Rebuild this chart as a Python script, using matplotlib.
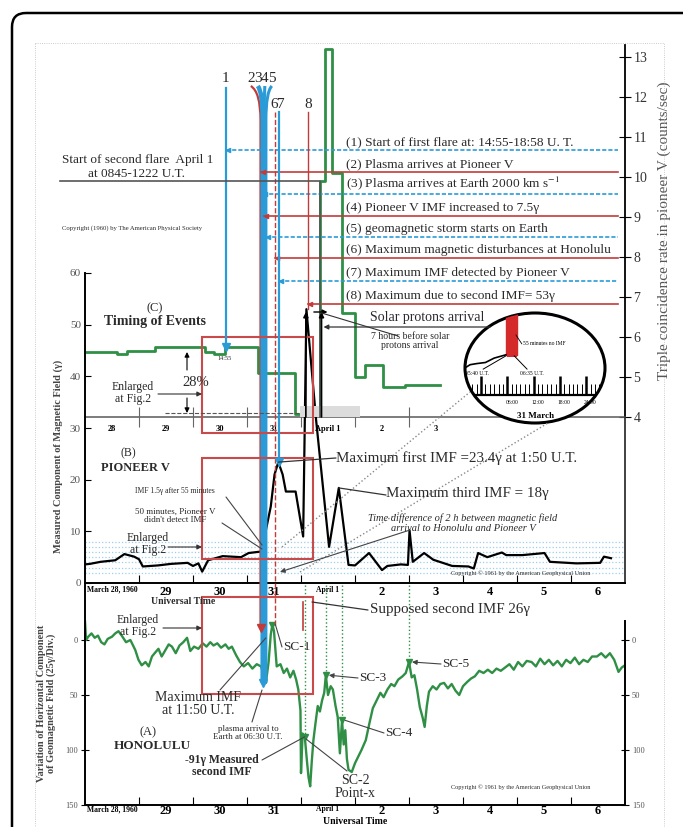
import matplotlib
matplotlib.use("Agg")
import matplotlib.pyplot as plt
from matplotlib.patches import Ellipse, FancyBboxPatch, Rectangle, PathPatch
from matplotlib.path import Path

W, H = 683, 827
plt.rcParams["font.family"] = ["Liberation Serif", "DejaVu Serif"]
plt.rcParams["mathtext.fontset"] = "stix"

GREEN = "#2f8f45"
BLUE = "#2b9bd8"
RED = "#c23b3b"
BOXRED = "#c84a4a"
INK = "#2a2a2a"

# time axis: days since 28 March 1960, 00 UT
day_edges = [1, 2, 3, 4, 5, 6, 7, 8, 9]
c_day_labels = ["28", "29", "30", "31", "April 1", "2", "3"]
ab_day_labels = ["March 28, 1960", "29", "30", "31", "April 1", "2", "3", "4", "5", "6"]

# (C) timing of events: triple coincidence rate (counts/sec)
timing_t = [0.0, 0.6, 0.77, 1.3, 2.22, 2.38, 2.59, 3.2, 3.89, 4.35, 4.44,
            4.57, 4.76, 5.0, 5.19, 5.52, 5.93, 6.57]
timing_rate = [5.62, 5.58, 5.65, 5.75, 5.62, 5.58, 5.75, 5.1, 4.08, 9.9, 13.2,
               10.1, 6.6, 5.0, 5.3, 4.75, 4.8, 4.8]
rate_ticks = [4, 5, 6, 7, 8, 9, 10, 11, 12, 13]

# (B) Pioneer V measured field (gamma)
pioneer_t = [0.0, 0.09, 0.29, 0.56, 0.73, 0.91, 1.0, 1.07, 1.35, 1.59, 1.9,
             2.0, 2.1, 2.17, 2.28, 2.55, 2.89, 3.03, 3.27, 3.30, 3.44, 3.51,
             3.58, 3.66, 3.72, 3.90, 4.04, 4.10, 4.28, 4.52, 4.70, 4.88, 5.0,
             5.26, 5.5, 5.6, 5.85, 5.98, 6.01, 6.07, 6.28, 6.45, 6.8, 7.1,
             7.2, 7.28, 7.45, 7.72, 7.8, 8.1, 8.51, 8.61, 9.1, 9.54, 9.61, 9.74]
pioneer_b = [3.6, 3.7, 4.1, 4.4, 5.6, 5.1, 4.6, 3.2, 3.4, 3.7, 3.9,
             3.3, 3.8, 2.2, 4.4, 5.2, 5.0, 5.8, 6.1, 7.7, 14.8, 21.0,
             23.4, 21.0, 17.7, 17.7, 9.0, 53.0, 31.5, 7.0, 18.4, 3.5, 3.4,
             5.8, 2.5, 3.3, 3.6, 3.5, 10.2, 4.1, 5.8, 4.5, 3.3, 3.2,
             2.8, 5.8, 5.0, 5.9, 5.4, 5.4, 5.8, 4.1, 3.8, 3.9, 5.1, 4.8]
field_ticks = [0, 10, 20, 30, 40, 50, 60]
hatch_levels = [2, 3, 4, 5, 6, 7, 8]

# (A) Honolulu horizontal component variation (gamma, downwards positive)
honolulu_t = [0.0, 0.02, 0.06, 0.12, 0.18, 0.24, 0.30, 0.36, 0.42, 0.50,
              0.56, 0.62, 0.68, 0.76, 0.84, 0.93, 0.99, 1.05, 1.12, 1.18,
              1.24, 1.29, 1.36, 1.42, 1.48, 1.55, 1.61, 1.68, 1.75, 1.82,
              1.89, 1.95, 2.02, 2.10, 2.18, 2.25, 2.32, 2.38, 2.45, 2.52,
              2.60, 2.66, 2.72, 2.80, 2.87, 2.94, 3.02, 3.10, 3.18, 3.26,
              3.31, 3.35, 3.40, 3.44, 3.47, 3.50, 3.55, 3.62, 3.68, 3.74,
              3.80, 3.86, 3.91, 3.95, 3.99, 4.00, 4.03, 4.07, 4.11, 4.14,
              4.17, 4.20, 4.23, 4.27, 4.31, 4.35, 4.39, 4.43, 4.46, 4.50,
              4.55, 4.59, 4.64, 4.68, 4.72, 4.76, 4.79, 4.82, 4.85, 4.88,
              4.94, 5.00, 5.06, 5.12, 5.20, 5.27, 5.33, 5.40, 5.47, 5.53,
              5.60, 5.67, 5.73, 5.80, 5.88, 5.94, 6.00, 6.05, 6.10, 6.15,
              6.20, 6.25, 6.29, 6.33, 6.37, 6.44, 6.51, 6.58, 6.65, 6.72,
              6.79, 6.86, 6.93, 7.00, 7.08, 7.15, 7.22, 7.30, 7.38, 7.46,
              7.54, 7.62, 7.70, 7.78, 7.86, 7.94, 8.02, 8.10, 8.18, 8.27,
              8.35, 8.43, 8.51, 8.59, 8.67, 8.75, 8.83, 8.91, 8.99, 9.07,
              9.15, 9.23, 9.31, 9.39, 9.48, 9.56, 9.64, 9.72, 9.80, 9.88,
              9.94, 10.0]
honolulu_h = [-17, 0, -3, -6, -2, -4, 2, 4, -1, -3,
              -6, -8, -4, 2, 0, 9, 18, 23, 20, 24,
              15, 12, 8, 15, 10, 4, 6, 12, 5, 2,
              -2, 10, 6, 8, 3, 6, 2, 5, 3, 7,
              4, 8, 6, 14, 20, 24, 21, 26, 22, 24,
              32, 39, 20, -5, -14, -8, 24, 22, 30, 26,
              34, 28, 36, 45, 64, 121, 85, 88, 110, 125,
              133, 110, 91, 75, 60, 65, 55, 48, 32, 50,
              42, 45, 60, 70, 103, 73, 95, 82, 108, 118,
              120, 112, 106, 100, 91, 75, 62, 55, 48, 52,
              45, 40, 42, 36, 33, 30, 20, 34, 32, 45,
              61, 70, 79, 60, 47, 42, 45, 40, 39, 44,
              40, 46, 50, 42, 38, 35, 33, 28, 30, 27,
              30, 26, 28, 25, 22, 27, 20, 24, 19, 20,
              24, 17, 22, 18, 23, 19, 24, 18, 21, 16,
              22, 18, 20, 15, 15, 12, 16, 12, 18, 29,
              25, 23]
honolulu_ticks = [0, 50, 100, 150]
sc_names = ["SC-1", "SC-2", "SC-3", "SC-4", "SC-5"]
sc_t = [3.47, 4.07, 4.46, 4.76, 6.00]
sc_h = [-14, 88, 32, 73, 20]

# events 1..8 (day since 28 March)
event_labels = ["1", "2", "3", "4", "5", "6", "7", "8"]
event_t = [2.61, 3.25, 3.29, 3.32, 3.35, 3.52, 3.60, 4.13]
event_texts = [
    "(1) Start of first flare at: 14:55-18:58 U. T.",
    "(2) Plasma arrives at Pioneer V",
    "(3) Plasma arrives at Earth 2000 km s$^{-1}$",
    "(4) Pioneer V IMF increased to 7.5\u03b3",
    "(5) geomagnetic storm starts on Earth",
    "(6) Maximum magnetic disturbances at Honolulu",
    "(7) Maximum IMF detected by Pioneer V",
    "(8) Maximum due to second IMF= 53\u03b3",
]

# inset: 31 March, hours
inset_hours = list(range(-3, 29))
inset_major = [0, 6, 12, 18, 24]
inset_major_labels = ["", "06:00", "12:00", "18:00", "24:00"]
inset_trace_h = [-3.7, -2.5, -1.0, 1.0, 3.0, 5.67]
inset_trace_y = [0.50, 0.53, 0.54, 0.55, 0.59, 0.62]
no_imf_start, no_imf_end = 5.67, 6.58

fig = plt.figure(figsize=(W / 100, H / 100), dpi=100)
fig.patch.set_facecolor("white")


def px_axes(x0, y0, x1, y1):
    return fig.add_axes([x0 / W, 1 - y1 / H, (x1 - x0) / W, (y1 - y0) / H])


def centers(n):
    return [d + 0.5 for d in range(n)]


# ---- panel C
axC = px_axes(85, 45, 625, 417)
axC.set_xlim(0, 10)
axC.set_ylim(4, 13.3)
axC.patch.set_alpha(0)
axC.spines["left"].set_visible(False)
axC.spines["top"].set_visible(False)
axC.spines["right"].set_linewidth(1.3)
axC.spines["bottom"].set_color("#666")
axC.spines["bottom"].set_linewidth(1.2)
axC.yaxis.tick_right()
axC.set_yticks(rate_ticks)
axC.tick_params(axis="y", direction="inout", length=8, labelsize=10,
                pad=2, labelcolor="#333")
axC.set_xticks(day_edges[:6])
axC.set_xticklabels([])
axC.set_xticks(centers(7), minor=True)
axC.set_xticklabels(c_day_labels, minor=True, fontsize=6, fontweight="bold")
axC.tick_params(axis="x", which="major", direction="inout", length=14,
                color="#666")
axC.tick_params(axis="x", which="minor", length=0, pad=6)
axC.yaxis.set_label_position("right")
axC.set_ylabel("Triple coincidence rate in pioneer V (counts/sec)",
               fontsize=11, color="#555")
axC.yaxis.set_label_coords(1.06, 0.5)
axC.plot(timing_t, timing_rate, drawstyle="steps-post", color=GREEN, lw=2)

# ---- panel B
axB = px_axes(85, 273, 625, 583)
axB.set_xlim(0, 10)
axB.set_ylim(0, 60)
axB.patch.set_alpha(0)
axB.spines["right"].set_visible(False)
axB.spines["top"].set_visible(False)
axB.spines["left"].set_linewidth(1.4)
axB.spines["bottom"].set_linewidth(1.4)
axB.set_yticks(field_ticks)
axB.tick_params(axis="y", direction="in", length=4, labelsize=8,
                labelcolor="#555", pad=3)
axB.set_xticks(day_edges)
axB.set_xticklabels([])
axB.set_xticks(centers(10), minor=True)
axB.set_xticklabels(ab_day_labels, minor=True)
axB.tick_params(axis="x", which="major", direction="in", length=6)
axB.tick_params(axis="x", which="minor", length=0, pad=2)
for i, lab in enumerate(axB.get_xticklabels(minor=True)):
    lab.set_fontsize(5.5 if i in (0, 4) else 9)
    lab.set_fontweight("bold")
axB.set_ylabel("Measured Component of Magnetic Field (\u03b3)", fontsize=7.5,
               fontweight="bold", color="#444")
axB.yaxis.set_label_coords(-0.04, 0.41)
for lev in hatch_levels:
    axB.axhline(lev, color="#9cd0ea", ls=":", lw=0.9)
axB.axvline(10, 0, 32.1 / 60, color="#333", lw=1.3, clip_on=False)
axB.plot(pioneer_t, pioneer_b, color="black", lw=1.6)

# ---- panel A
axA = px_axes(85, 585, 625, 805)
axA.set_xlim(0, 10)
axA.set_ylim(150, -50)
axA.patch.set_alpha(0)
axA.spines["top"].set_visible(False)
axA.spines["right"].set_bounds(-17, 150)
for s in ("left", "right", "bottom"):
    axA.spines[s].set_linewidth(1.4)
axA.set_yticks(honolulu_ticks)
axA.tick_params(axis="y", left=True, right=True, labelleft=True,
                labelright=True, direction="inout", length=6, labelsize=6,
                labelcolor="#555", pad=2)
axA.set_xticks(day_edges)
axA.set_xticklabels([])
axA.set_xticks(centers(10), minor=True)
axA.set_xticklabels(ab_day_labels, minor=True)
axA.tick_params(axis="x", which="major", direction="in", length=6)
axA.tick_params(axis="x", which="minor", length=0, pad=0)
for i, lab in enumerate(axA.get_xticklabels(minor=True)):
    lab.set_fontsize(5.5 if i in (0, 4) else 9)
    lab.set_fontweight("bold")
axA.set_xlabel("Universal Time", fontsize=7, fontweight="bold",
               labelpad=0)
axA.set_ylabel("Variation of Horizontal Component\n"
               "of Geomagnetic Field (25\u03b3/Div.)", fontsize=7.5,
               fontweight="bold", color="#444", linespacing=1.1)
axA.yaxis.set_label_coords(-0.053, 0.46)
axA.vlines(sc_t[1:], -50, sc_h[1:], colors=GREEN, linestyles=":", lw=1)
axA.plot(honolulu_t, honolulu_h, color=GREEN, lw=1.7)
axA.plot(sc_t, sc_h, "v", color=GREEN, ms=5)

# ---- inset (31 March)
ins = px_axes(465, 313, 605, 423)
ins.set_xlim(-3.66, 28.3)
ins.set_ylim(0, 1)
ins.axis("off")
ring = Ellipse((0.5, 0.5), 1, 1, transform=ins.transAxes, facecolor="white",
               edgecolor="black", lw=2.2, zorder=0, clip_on=False)
ins.add_patch(ring)
clipped = [
    ins.axhline(0.255, color="black", lw=1.6),
    ins.vlines(inset_hours, 0.255, 0.35, colors="black", lw=0.7),
    ins.vlines(inset_major, 0.255, 0.43, colors="black", lw=1.8),
    ins.plot(inset_trace_h, inset_trace_y, color="black", lw=1.2)[0],
    ins.fill_between([no_imf_start, no_imf_end + 1.6], [0.62, 0.62], [1, 1],
                     color="#d42a2a"),
]
for art in clipped:
    art.set_clip_path(ring)
for h, lab in zip(inset_major, inset_major_labels):
    ins.text(h + 1, 0.19, lab, fontsize=4, ha="center", va="center")
ins.text(12.5, 0.06, "31 March", fontsize=6.5, fontweight="bold",
         ha="center", va="center")
ins.text(9.5, 0.72, "55 minutes no IMF", fontsize=4, ha="left", va="center")
ins.text(-1.0, 0.45, "05:40 U.T.", fontsize=4, ha="center", va="center")
ins.text(11.5, 0.45, "06:35 U.T.", fontsize=4, ha="center", va="center")
ins.plot([0.5, no_imf_start], [0.49, 0.61], color="black", lw=0.7)
ins.plot([10.5, no_imf_end + 1.0], [0.49, 0.61], color="black", lw=0.7)
ins.plot([9.3, no_imf_end + 1.4], [0.72, 0.80], color="black", lw=0.6)

# ---- overlay in pixel coordinates
ov = fig.add_axes([0, 0, 1, 1])
ov.set_xlim(0, W)
ov.set_ylim(H, 0)
ov.axis("off")
ov.patch.set_alpha(0)


def to_ov(ax, x, y):
    return ov.transData.inverted().transform(ax.transData.transform((x, y)))


def ex(t):
    return to_ov(axC, t, 4)[0]


def leader(p_from, p_to, color="#444", lw=0.8, head=False):
    ov.annotate("", xy=p_to, xytext=p_from,
                arrowprops=dict(arrowstyle="-|>" if head else "-",
                                color=color, lw=lw, mutation_scale=7,
                                shrinkA=0, shrinkB=0))


def txt(x, y, s, size=9, **kw):
    kw.setdefault("ha", "center")
    kw.setdefault("va", "center")
    kw.setdefault("color", INK)
    ov.text(x, y, s, fontsize=size, **kw)


# frames
ov.add_patch(FancyBboxPatch((12, 13), 720, 860,
                            boxstyle="round,pad=0,rounding_size=14",
                            fill=False, ec="black", lw=1.8, clip_on=False))
ov.add_patch(Rectangle((35, 43), 629, 860, fill=False, ec="#bbb", lw=0.6,
                       ls=":", clip_on=False))

# event lines
event_colors = [BLUE, RED, BLUE, BLUE, BLUE, RED, BLUE, RED]
branch_colors = [BLUE, RED, BLUE, RED, BLUE, RED, BLUE, RED]
event_widths = [1.6, 1.6, 3.2, 2.2, 2.2, 1.0, 1.6, 1.0]
event_ends = [(axC, 5.75), (axA, -11), (axA, 39), (axA, 39), (axA, 39),
              (axA, -14), (axB, 23.4), (axB, 53)]
event_heads = [True, True, True, False, False, False, True, False]
branch_y = [150, 172, 194, 216, 237, 258, 281, 304]
bundle_label_x = [-14, -7, 0, 7]

for i, t in enumerate(event_t):
    x = ex(t)
    ax_end, v_end = event_ends[i]
    y_end = to_ov(ax_end, t, v_end)[1]
    c = event_colors[i]
    if 1 <= i <= 4:
        lx = ex(3.33) + bundle_label_x[i - 1]
        txt(lx, 78, event_labels[i], size=11)
        path = Path([(lx, 86), (x, 92), (x, 120), (x, y_end)],
                    [Path.MOVETO, Path.CURVE3, Path.CURVE3, Path.LINETO])
        ov.add_patch(PathPatch(path, fill=False, ec=c, lw=event_widths[i]))
    else:
        y_top = 88 if i == 0 else 112
        ly = 78 if i == 0 else 104
        lx = x - 1 if i == 5 else (x + 1 if i == 6 else x)
        txt(lx, ly, event_labels[i], size=11)
        ov.plot([x, x], [y_top, y_end], color=c, lw=event_widths[i],
                ls="--" if i == 5 else "-")
    if event_heads[i]:
        ov.plot(x, y_end, marker="v", color=c, ms=6)
    ls = (0, (2.5, 1.2)) if branch_colors[i] == BLUE else "-"
    ov.plot([x, 618], [branch_y[i], branch_y[i]], color=branch_colors[i],
            lw=1.2, ls=ls)
    ov.plot(x + 2, branch_y[i], marker="<", color=branch_colors[i], ms=3)
    txt(346, branch_y[i] - 2, event_texts[i], size=9.6, ha="left",
        va="bottom")

# second flare
x2 = ex(4.36)
ov.plot([60, x2, x2], [181, 181, to_ov(axC, 4.36, 4)[1]], color="#555",
        lw=1.2)
txt(138, 160, "Start of second flare  April 1", size=9.5)
txt(137, 174, "at 0845-1222 U.T.", size=9.5)
txt(132, 228, "Copyright (1960) by The American Physical Society", size=4.8)

# solar protons / 7 hours
for t in (4.09, 4.38):
    leader((ex(t), 417), (ex(t), 312), color="black", lw=1.2, head=True)
leader((ex(4.09) + 8, 312), (ex(4.38) + 6, 312), color="black", lw=1.0,
       head=True)
leader((490, 327), (ex(4.38) + 2, 327), color="#333", lw=0.9, head=True)
txt(427, 317, "Solar protons arrival", size=10)
txt(410, 341, "7 hours before solar\nprotons arrival", size=7,
    linespacing=1.1)
leader((398, 336), (ex(4.38), 313), color="#333", lw=0.8)

# panel C labels
txt(155, 308, "(C)", size=9)
txt(155, 322, "Timing of Events", size=10, fontweight="bold")
txt(225, 358, "14:55", size=4.5)
txt(196, 383, "28%", size=10.5)
leader((187, 370), (187, 352), color="black", lw=0.8, head=True)
leader((187, 398), (187, 413), color="black", lw=0.8, head=True)
txt(133, 393, "Enlarged\nat Fig.2", size=8.5, linespacing=1.0)
leader((158, 394), (202, 394), color="#333", lw=0.8, head=True)
ov.plot([165, 300], [413, 413], color="#555", lw=0.8, ls="--")
ov.add_patch(Rectangle((300, 406), 60, 11, fc="#dcdcdc", ec="none"))

# enlarged boxes
for y0, y1 in ((337, 433), (458, 559), (597, 694)):
    ov.add_patch(Rectangle((202, y0), 111, y1 - y0, fill=False,
                           ec=BOXRED, lw=1.5))

# dotted guide lines to inset
ov.plot([282, 470], [547, 392], color="#888", lw=1.0, ls=":")
ov.plot([300, 548], [572, 423], color="#888", lw=1.0, ls=":")

# panel B labels
txt(128, 453, "(B)", size=8.5)
txt(135, 468, "PIONEER V", size=9, fontweight="bold")
p1 = to_ov(axB, 3.58, 23.4)
leader((336, 458), p1, color="#333", lw=0.9)
txt(336, 458, "Maximum first IMF =23.4\u03b3 at 1:50 U.T.", size=10.8,
    ha="left")
p3 = to_ov(axB, 4.70, 18.4)
leader((386, 495), p3, color="#333", lw=0.9)
txt(386, 494, "Maximum third IMF = 18\u03b3", size=10.8, ha="left")
txt(175, 491, "IMF 1.5\u03b3 after 55 minutes", size=5.5)
leader((226, 497), (262, 545), color="#444", lw=0.8)
txt(175, 516, "50 minutes, Pioneer V\ndidn't detect IMF", size=6.5,
    linespacing=1.1)
leader((222, 523), (262, 549), color="#444", lw=0.8)
txt(463, 523, "Time difference of 2 h between magnetic field\n"
    "arrival to Honolulu and Pioneer V", size=7.5, style="italic",
    linespacing=1.1)
leader((410, 530), (280, 572), color="#444", lw=0.8, head=True)
txt(148, 544, "Enlarged\nat Fig.2", size=8.5, linespacing=1.0)
leader((168, 547), (202, 547), color="#333", lw=0.8, head=True)
txt(521, 573, "Copyright \u00a9 1961 by the American Geophysical Union",
    size=4.5)
txt(183, 602, "Universal Time", size=7, fontweight="bold")

# panel A labels
leader((368, 610), (312, 602), color="#333", lw=0.9)
ov.plot([303, 303], [602, 630], color=RED, lw=1.2)
txt(370, 610, "Supposed second IMF 26\u03b3", size=10.8, ha="left")
txt(138, 626, "Enlarged\nat Fig.2", size=8.5, linespacing=1.0)
leader((163, 628), (202, 628), color="#333", lw=0.8, head=True)
sc_text_xy = [(283, 647), (355, 787), (359, 678), (385, 733), (442, 664)]
for name, t, h, (tx, ty) in zip(sc_names, sc_t, sc_h, sc_text_xy):
    px, py = to_ov(axA, t, h)
    if name == "SC-2":
        txt(tx, ty, "SC-2\nPoint-x", size=10, linespacing=1.0)
        leader((tx - 8, ty - 16), (px + 1, py + 2), color="#444", lw=0.8)
    else:
        txt(tx, ty, name, size=9.5, ha="left")
        leader((tx - 1, ty), (px + 3, py), color="#444", lw=0.8,
               head=name in ("SC-3", "SC-5"))
pmax = to_ov(axA, 3.35, 39)
txt(198, 704, "Maximum IMF\nat 11:50 U.T.", size=10, linespacing=1.0)
leader((220, 690), (pmax[0], pmax[1] - 45), color="#444", lw=0.8)
txt(248, 733, "plasma arrival to\nEarth at 06:30 U.T.", size=6.5,
    linespacing=1.1)
leader((252, 722), (262, 690), color="#444", lw=0.8)
txt(148, 732, "(A)", size=9)
txt(152, 746, "HONOLULU", size=9.5, fontweight="bold")
p91 = to_ov(axA, 4.07, 88)
txt(222, 766, "-91\u03b3 Measured\nsecond IMF", size=8.5, fontweight="bold",
    linespacing=1.0)
leader((262, 760), p91, color="#444", lw=0.8)
txt(521, 787, "Copyright \u00a9 1961 by the American Geophysical Union",
    size=4.5)

fig.savefig("out.png", dpi=100)
